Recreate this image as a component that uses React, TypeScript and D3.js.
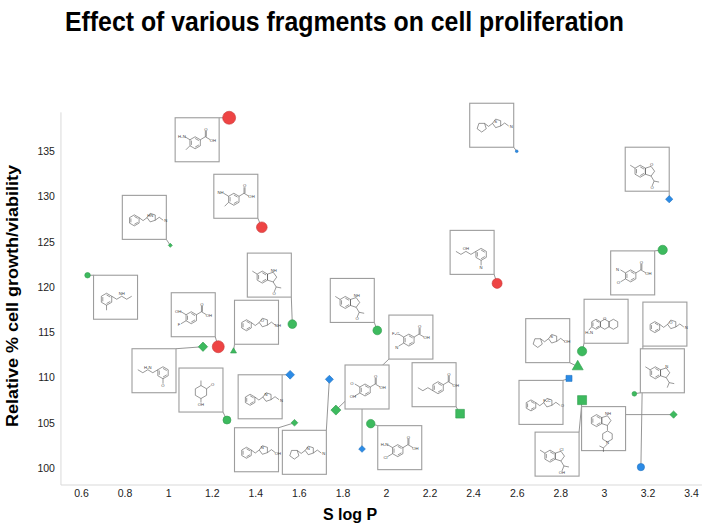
import React, { useRef, useEffect } from "react";
import * as d3 from "d3";

// Fragment data
const slogP = [1.28, 1.43, 2.6, 3.3, 1.01, 0.63, 2.51, 3.27, 1.57, 1.96, 1.23, 1.16, 1.3, 1.56, 1.27, 1.58, 1.74, 1.77, 1.89, 1.93, 2.34, 2.9, 2.88, 2.84, 2.9, 3.32, 3.14, 3.17];
const growth = [138.7, 126.6, 135.0, 129.7, 124.6, 121.3, 120.4, 124.1, 115.9, 115.2, 113.4, 113.4, 112.9, 110.3, 105.3, 105.0, 109.8, 106.4, 102.1, 104.9, 106.0, 112.9, 111.2, 109.9, 107.5, 105.9, 108.2, 100.1];
const markerShape = ["circle", "circle", "circle", "diamond", "diamond", "circle", "circle", "circle", "circle", "circle", "circle", "diamond", "triangle", "diamond", "circle", "diamond", "diamond", "diamond", "diamond", "circle", "square", "circle", "triangle", "square", "square", "diamond", "circle", "circle"];
const markerGroup = ["red", "red", "blue", "blue", "green", "green", "red", "green", "green", "green", "red", "green", "green", "blue", "green", "green", "blue", "green", "blue", "green", "green", "green", "green", "blue", "green", "green", "green", "blue"];
const markerWeight = [13, 10.7, 2.7, 7.3, 4, 5.5, 10, 9.3, 8.7, 8.7, 12, 9.3, 6, 8.7, 8, 6.7, 8, 10, 6.7, 8.5, 8.7, 9.3, 11, 6, 9, 7.3, 4.7, 7.3];

// Structure drawn in each callout box
const fragmentKind = ["acid", "acid", "linked5", "fused", "linked", "chainR", "chain", "acid", "fused", "fused", "acid", "chain", "linked", "linked", "ring", "linked", "linked5", "acid", "acid", "acid", "chainAcid", "tricyclic", "linked5", "linked", "fused", "fusedPip", "fused", "linked"];
const fragmentLabels = [
  ["H₂N", ""], ["NH", ""], ["S", "N"], ["O", "O"], ["HN", "N"], ["NH", ""], ["OH", "N"], ["N", "O"],
  ["NH", "O"], ["NH", "O"], ["OH", "F"], ["H₂N", "O"], ["O", "NH"], ["N", "N"], ["O", "OH"], ["N", "OH"],
  ["N", "N"], ["F₃C", "N"], ["O", "OH"], ["H₂N", "Cl"], ["", ""], ["H₂N", "O"], ["S", "OH"], ["F₃C", "O"],
  ["Cl", "OH"], ["NH", "N"], ["N", ""], ["O", "N"],
];

// Callout box placement relative to its point (layout only)
const calloutOffset: [number, number][] = [
  [-54, 0], [-48, -53], [-47, -48], [-44, -52], [-48, -50], [6, 0], [-47, -53], [-52, 1],
  [-45, -71], [-47, -52], [-47, -54], [-71, 2], [1, -51], [-52, 0], [-48, -52], [-60, 5],
  [-47, 51], [53, -95], [-17, -84], [7, 2], [-48, -51], [2, -52], [-52, -48], [-50, 2],
  [-47, 32], [-92, -8], [6, -45], [2, -165],
];

const xTicks = [0.6, 0.8, 1, 1.2, 1.4, 1.6, 1.8, 2, 2.2, 2.4, 2.6, 2.8, 3, 3.2, 3.4];
const yTicks = [100, 105, 110, 115, 120, 125, 130, 135];

const groupColor: Record<string, string> = { red: "#ee4444", green: "#3dba5e", blue: "#2b8be6" };

type Sel = d3.Selection<SVGGElement, unknown, null, undefined>;

function drawFragment(g: Sel, kind: string, labels: string[]) {
  const ink = "#444";
  const bond = (pts: [number, number][]) =>
    g.append("path").attr("d", d3.line()(pts)).attr("fill", "none").attr("stroke", ink).attr("stroke-width", 0.55);
  const ring = (cx: number, cy: number, r: number, n: number, start: number, inner = false) => {
    const pts = d3.range(n).map((i) => {
      const a = ((start + (i * 360) / n) * Math.PI) / 180;
      return [cx + r * Math.cos(a), cy + r * Math.sin(a)] as [number, number];
    });
    bond([...pts, pts[0]]);
    if (inner) {
      for (let i = 0; i < n - 1; i += 2) {
        const p = pts[i], q = pts[(i + 1) % n];
        const s = 0.72;
        bond([
          [cx + (p[0] - cx) * s, cy + (p[1] - cy) * s],
          [cx + (q[0] - cx) * s, cy + (q[1] - cy) * s],
        ]);
      }
    }
    return pts;
  };
  const label = (x: number, y: number, t: string) => {
    if (!t) return;
    g.append("text").attr("x", x).attr("y", y).attr("text-anchor", "middle").attr("dy", "0.35em")
      .attr("font-family", "Liberation Sans, Arial, sans-serif").attr("font-size", 4.2).attr("fill", ink).text(t);
  };

  if (kind === "acid" || kind === "chainAcid") {
    const p = ring(kind === "acid" ? 20 : 26, 25, 6, 6, -90, true);
    const [ax, ay] = p[1];
    bond([[ax, ay], [ax + 5, ay - 3], [ax + 5, ay - 9]]);
    bond([[ax + 6, ay - 3], [ax + 6, ay - 9]]);
    bond([[ax + 5, ay - 3], [ax + 10, ay]]);
    label(ax + 5.5, ay - 10.5, "O");
    label(ax + 12.5, ay + 0.5, "OH");
    if (kind === "acid") {
      const [lx, ly] = p[5];
      bond([[lx, ly], [lx - 5, ly - 3]]);
      label(lx - 8, ly - 3.5, labels[0]);
      if (labels[1]) {
        const [bx, by] = p[4];
        bond([[bx, by], [bx - 5, by + 3]]);
        label(bx - 7, by + 4, labels[1]);
      } else {
        const [bx, by] = p[4];
        bond([[bx, by], [bx - 4, by + 4]]);
      }
    } else {
      const [lx, ly] = p[4];
      bond([[lx, ly], [lx - 5, ly - 3], [lx - 10, ly], [lx - 15, ly - 3]]);
    }
  } else if (kind === "fused" || kind === "fusedPip") {
    const cy = kind === "fusedPip" ? 14 : 24;
    ring(15, cy, 6, 6, -90, true);
    const pent = ring(24.3, cy, 5.1, 5, 144);
    label(pent[2][0] + 0.5, pent[2][1] - 1.8, labels[0]);
    if (kind === "fusedPip") {
      const [sx, sy] = pent[4];
      bond([[sx, sy], [sx, sy + 5]]);
      const pip = ring(sx, sy + 11, 5.5, 6, -90);
      const [nx, ny] = pip[3];
      label(nx, ny + 1, labels[1]);
      bond([[nx, ny + 2], [nx - 4, ny + 6], [nx - 8, ny + 4]]);
      bond([[nx - 4, ny + 6], [nx - 4, ny + 10]]);
    } else {
      const [sx, sy] = pent[4];
      bond([[sx, sy], [sx + 3, sy + 5], [sx + 8, sy + 6]]);
      bond([[sx + 3, sy + 5], [sx + 1, sy + 10]]);
      label(sx + 1, sy + 11.5, labels[1]);
      bond([[9.8, cy - 3], [5, cy - 6]]);
    }
  } else if (kind === "linked" || kind === "linked5") {
    const p = kind === "linked" ? ring(12, 25, 5.5, 6, -90, true) : ring(12, 24, 4.8, 5, 90);
    const [sx, sy] = kind === "linked" ? p[1] : p[3];
    bond([[sx, sy], [sx + 4, sy + 3], [sx + 8, sy]]);
    const q = ring(sx + 12.5, sy, 4.5, 5, 180);
    label(q[1][0], q[1][1] + 2.2, labels[0]);
    const [ex, ey] = q[3];
    bond([[ex, ey], [ex + 4, ey - 3], [ex + 8, ey]]);
    label(ex + 10.5, ey + 0.5, labels[1]);
  } else if (kind === "chain" || kind === "chainR") {
    const right = kind === "chain";
    const p = ring(right ? 31 : 13, 24, 6, 6, -90, true);
    const [sx, sy] = right ? p[5] : p[1];
    const d = right ? -1 : 1;
    bond([[sx, sy], [sx + d * 5, sy + 3], [sx + d * 10, sy], [sx + d * 15, sy + 3], [sx + d * 20, sy]]);
    label(sx + d * 10, sy - 2.5, labels[0]);
    const [tx, ty] = p[3];
    bond([[tx, ty], [tx, ty + 5]]);
    label(tx, ty + 7, labels[1]);
  } else if (kind === "ring") {
    const p = ring(22, 24, 6.5, 6, -90);
    bond([[p[0][0], p[0][1]], [p[0][0], p[0][1] - 5]]);
    bond([[p[1][0], p[1][1]], [p[1][0] + 4, p[1][1] - 3]]);
    label(p[1][0] + 6, p[1][1] - 4, labels[0]);
    bond([[p[3][0], p[3][1]], [p[3][0], p[3][1] + 4]]);
    label(p[3][0], p[3][1] + 6, labels[1]);
  } else if (kind === "tricyclic") {
    const r = 5;
    const step = r * Math.sqrt(3);
    ring(12, 25, r, 6, -90, true);
    ring(12 + step, 25, r, 6, -90);
    ring(12 + 2 * step, 25, r, 6, -90);
    label(12 + step, 19, labels[1]);
    bond([[12 - step / 2, 27.5], [12 - step / 2 - 3, 31]]);
    label(5, 33, labels[0]);
  }
}

const App: React.FC = () => {
  const svgRef = useRef<SVGSVGElement | null>(null);

  useEffect(() => {
    const width = 706;
    const height = 528;

    const svg = d3.select(svgRef.current).attr("width", width).attr("height", height);
    svg.selectAll("*").remove();

    const x = d3.scaleLinear().domain([0.6, 3.4]).range([81, 691]);
    const y = d3.scaleLinear().domain([100, 135]).range([468, 151.25]);
    const xEdge = [0.508, 3.45];
    const yEdge = [98.12, 139.3];

    // Title
    svg.append("text")
      .attr("x", 344.5).attr("y", 31)
      .attr("text-anchor", "middle")
      .attr("font-family", "Liberation Sans, Arial, sans-serif")
      .attr("font-weight", "bold").attr("font-size", 27)
      .attr("textLength", 559).attr("lengthAdjust", "spacingAndGlyphs")
      .text("Effect of various fragments on cell proliferation");

    // Axis lines
    svg.append("line")
      .attr("x1", x(xEdge[0])).attr("x2", x(xEdge[0]))
      .attr("y1", y(yEdge[1])).attr("y2", y(yEdge[0]))
      .attr("stroke", "#d9d9d9").attr("stroke-width", 1);
    svg.append("line")
      .attr("x1", x(xEdge[0])).attr("x2", x(xEdge[1]))
      .attr("y1", y(yEdge[0])).attr("y2", y(yEdge[0]))
      .attr("stroke", "#d9d9d9").attr("stroke-width", 1);

    // Tick labels
    const xAxis = svg.append("g")
      .attr("transform", `translate(0,${y(yEdge[0])})`)
      .call(d3.axisBottom(x).tickValues(xTicks).tickSize(0).tickPadding(5).tickFormat((d) => String(d)));
    const yAxis = svg.append("g")
      .attr("transform", `translate(${x(xEdge[0])},0)`)
      .call(d3.axisLeft(y).tickValues(yTicks).tickSize(0).tickPadding(6));
    [xAxis, yAxis].forEach((a) => {
      a.select(".domain").remove();
      a.selectAll("text")
        .attr("font-family", "Liberation Sans, Arial, sans-serif")
        .attr("font-size", 10.5).attr("fill", "#222");
    });

    // Axis titles
    svg.append("text")
      .attr("x", 350).attr("y", 520)
      .attr("text-anchor", "middle")
      .attr("font-family", "Liberation Sans, Arial, sans-serif")
      .attr("font-weight", "bold").attr("font-size", 16)
      .text("S log P");
    svg.append("text")
      .attr("transform", "translate(18,296) rotate(-90)")
      .attr("text-anchor", "middle")
      .attr("font-family", "Liberation Sans, Arial, sans-serif")
      .attr("font-weight", "bold").attr("font-size", 16)
      .attr("textLength", 262).attr("lengthAdjust", "spacingAndGlyphs")
      .text("Relative % cell growth/viability");

    const boxSize = 44;
    const points = slogP.map((v, i) => {
      const px = x(v);
      const py = y(growth[i]);
      const bx = px + calloutOffset[i][0];
      const by = py + calloutOffset[i][1];
      // nearest point on the box to the marker
      const cx = Math.max(bx, Math.min(px, bx + boxSize));
      const cy = Math.max(by, Math.min(py, by + boxSize));
      return { i, px, py, bx, by, cx, cy };
    });

    // Leader lines
    svg.append("g").selectAll("line").data(points).join("line")
      .attr("x1", (d) => d.cx).attr("y1", (d) => d.cy)
      .attr("x2", (d) => d.px).attr("y2", (d) => d.py)
      .attr("stroke", "#8a8a8a").attr("stroke-width", 0.9);

    // Structure boxes
    const boxes = svg.append("g").selectAll<SVGGElement, (typeof points)[number]>("g").data(points).join("g")
      .attr("transform", (d) => `translate(${d.bx},${d.by})`);
    boxes.append("rect")
      .attr("width", boxSize).attr("height", boxSize)
      .attr("fill", "#fff").attr("stroke", "#9d9d9d").attr("stroke-width", 1.1);
    boxes.each(function (d) {
      drawFragment(d3.select(this) as Sel, fragmentKind[d.i], fragmentLabels[d.i]);
    });

    // Markers
    const symbolFor = (shape: string, w: number) => {
      if (shape === "circle") return d3.symbol(d3.symbolCircle, Math.PI * (w / 2) ** 2)();
      if (shape === "square") return d3.symbol(d3.symbolSquare, w * w)();
      if (shape === "diamond") return d3.symbol(d3.symbolSquare, (w * w) / 2)();
      return d3.symbol(d3.symbolTriangle, (Math.sqrt(3) * w * w) / 4)();
    };
    const size = d3.scaleLinear().domain([0, 13]).range([0, 13]);
    svg.append("g").selectAll("path").data(points).join("path")
      .attr("d", (d) => symbolFor(markerShape[d.i], size(markerWeight[d.i])))
      .attr("transform", (d) =>
        `translate(${d.px},${d.py})${markerShape[d.i] === "diamond" ? " rotate(45)" : ""}`)
      .attr("fill", (d) => groupColor[markerGroup[d.i]])
      .attr("stroke", (d) => d3.color(groupColor[markerGroup[d.i]])!.darker(0.5).formatHex())
      .attr("stroke-width", 0.6);
  }, []);

  return (
    <div>
      <svg ref={svgRef} style={{ position: "absolute", left: 0, top: 0, background: "#fff" }}></svg>
    </div>
  );
};

export default App;
